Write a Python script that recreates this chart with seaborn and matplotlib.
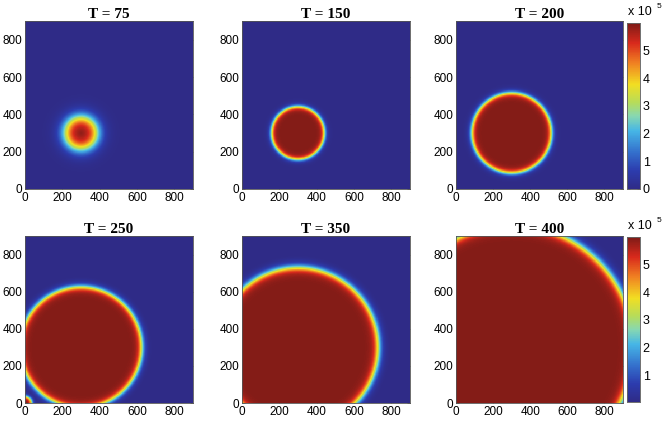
import numpy as np
import pandas as pd
import matplotlib
matplotlib.use("Agg")
import matplotlib.pyplot as plt
from matplotlib.colors import LinearSegmentedColormap
import seaborn as sns

# ---------------- data ----------------
times = [75, 150, 200, 250, 350, 400]
front_radius = [85, 142, 215, 327, 432, 660]      # radius of main front (mid value)
front_width = [22, 8, 9, 11, 13, 15]              # smoothness of the front
corner_radius = [0, 0, 0, 35, 0, 0]               # secondary source at the origin
source_center = [300, 300]
peak_value = 5.95e5
domain_size = 900
cell_size = 3
tick_values = [0, 200, 400, 600, 800]
cbar_ticks = [0, 1, 2, 3, 4, 5]
cbar_min = [0.0, 0.03e5]
cbar_max = [6.0e5, 6.0e5]

# ---------------- build fields ----------------
centers = np.arange(cell_size / 2, domain_size, cell_size)
X, Y = np.meshgrid(centers, centers)


def field(R, w, rc):
    r = np.hypot(X - source_center[0], Y - source_center[1])
    z = peak_value / (1 + np.exp((r - R) / w))
    if rc > 0:
        r2 = np.hypot(X, Y)
        z = np.maximum(z, peak_value / (1 + np.exp((r2 - rc) / 7)))
    return pd.DataFrame(z)


anchors = [
    (0.000, "#2f2b87"),
    (0.110, "#2c3cae"),
    (0.220, "#3470cc"),
    (0.350, "#46b6e6"),
    (0.440, "#88d8b0"),
    (0.520, "#b6dc5a"),
    (0.630, "#f2de22"),
    (0.760, "#f08022"),
    (0.880, "#d8291c"),
    (1.000, "#7e1b17"),
]
cmap = LinearSegmentedColormap.from_list("jetlike", anchors)

# ---------------- figure ----------------
W, H = 668, 421
fig = plt.figure(figsize=(W / 100, H / 100), dpi=100)
sns.set_style("white")
plt.rcParams["font.family"] = ["Liberation Sans", "DejaVu Sans"]
plt.rcParams["text.color"] = "black"
plt.rcParams["xtick.color"] = "black"
plt.rcParams["ytick.color"] = "black"


def px_rect(x0, y0, x1, y1):
    return [x0 / W, 1 - y1 / H, (x1 - x0) / W, (y1 - y0) / H]


col_x = [(25, 193), (242, 410), (456, 623)]
row_y = [(21, 189), (236, 403)]
cbar_rects = [(627, 23, 640, 189), (627, 237, 640, 402)]

n = len(centers)
for i, T in enumerate(times):
    row, col = divmod(i, 3)
    x0, x1 = col_x[col]
    y0, y1 = row_y[row]
    ax = fig.add_axes(px_rect(x0, y0, x1, y1))
    Z = field(front_radius[i], front_width[i], corner_radius[i])
    has_cbar = col == 2
    if has_cbar:
        cax = fig.add_axes(px_rect(*cbar_rects[row]))
        kw = dict(cbar=True, cbar_ax=cax)
    else:
        kw = dict(cbar=False)
    sns.heatmap(Z, ax=ax, cmap=cmap, vmin=cbar_min[row], vmax=cbar_max[row],
                xticklabels=False, yticklabels=False, rasterized=True, **kw)
    ax.invert_yaxis()
    ax.set_xlim(0, n)
    ax.set_ylim(0, n)
    pos = np.array(tick_values) / cell_size
    ax.set_xticks(pos)
    ax.set_xticklabels([str(v) for v in tick_values], fontsize=8.5, color="black")
    ax.set_yticks(pos)
    ax.set_yticklabels([str(v) for v in tick_values], fontsize=8.5, rotation=0,
                       color="black")
    ax.tick_params(direction="in", length=2.5, width=0.5, color="#444444",
                   pad=2, top=True, right=True, bottom=True, left=True)
    for s in ax.spines.values():
        s.set_visible(True)
        s.set_color("#555555")
        s.set_linewidth(0.6)
    ax.set_xlabel("")
    ax.set_ylabel("")
    ax.set_title(f"T = {T}", fontsize=11, fontweight="bold", color="black",
                 family=["Liberation Serif", "DejaVu Serif"], pad=2)
    if has_cbar:
        ticks = [t * 1e5 for t in cbar_ticks if cbar_min[row] <= t * 1e5 <= cbar_max[row]]
        cax.set_yticks(ticks)
        cax.set_yticklabels([str(int(round(t / 1e5))) for t in ticks], fontsize=9,
                            color="black")
        cax.tick_params(direction="in", length=2.5, width=0.5, pad=2,
                        left=True, right=True, color="#333333")
        for s in cax.spines.values():
            s.set_visible(True)
            s.set_color("#666666")
            s.set_linewidth(0.5)
        cx0, cy0, cx1, cy1 = cbar_rects[row]
        fig.text(628 / W, 1 - (cy0 - 5) / H, "x 10", fontsize=9,
                 ha="left", va="bottom", color="black")
        fig.text(657 / W, 1 - (cy0 - 13) / H, "5", fontsize=6,
                 ha="left", va="bottom", color="black")

fig.savefig("out.png", dpi=100)
